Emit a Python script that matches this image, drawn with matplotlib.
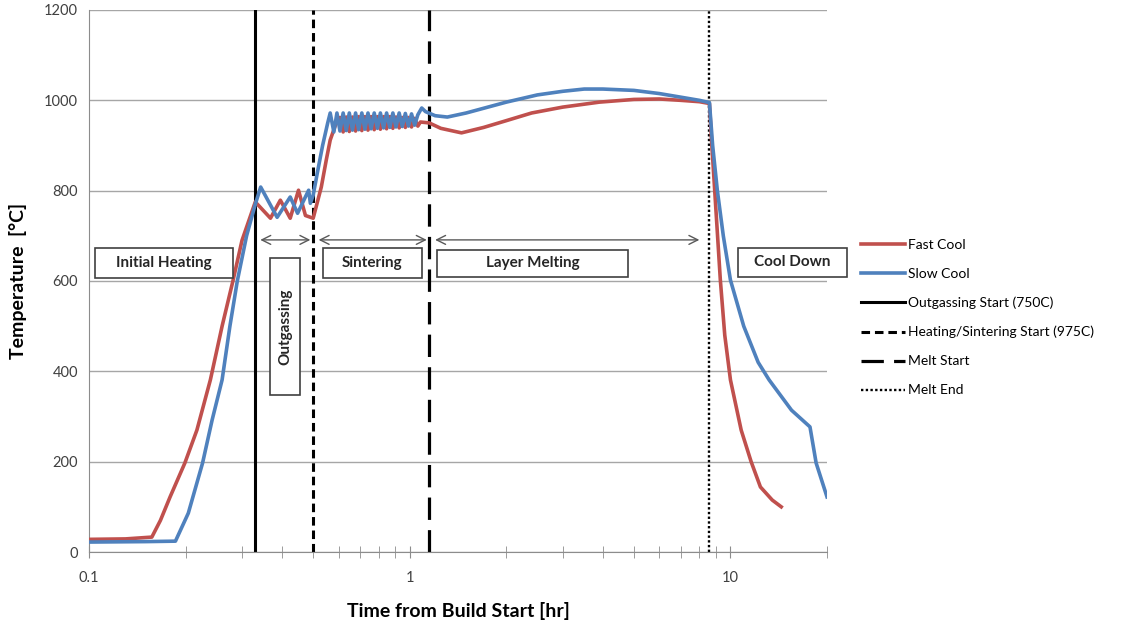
import matplotlib.pyplot as plt
from matplotlib.patches import Rectangle

plt.rcParams['font.family'] = ['Lato', 'DejaVu Sans']

# time [hr] and temperature [C]
fast_time = [0.1, 0.13, 0.157, 0.167, 0.179, 0.199, 0.217, 0.239, 0.26, 0.281,
             0.30, 0.33, 0.368, 0.395, 0.424, 0.45, 0.473, 0.5, 0.53,
             0.55, 0.565, 0.59, 0.606, 0.62, 0.634, 0.648, 0.663, 0.678, 0.693,
             0.709, 0.725, 0.741, 0.758, 0.775, 0.793, 0.81, 0.829, 0.847, 0.867,
             0.886, 0.906, 0.927, 0.948, 0.969, 0.991, 1.013, 1.036, 1.06, 1.08,
             1.15, 1.25, 1.45, 1.7, 2.0, 2.4, 3.0, 3.9, 5.0, 6.0,
             7.0, 8.0, 8.6, 8.75, 8.93, 9.3, 9.6, 10.0, 10.8, 11.6,
             12.4, 13.5, 14.4]
fast_temp = [28, 29, 33, 70, 122, 197, 270, 381, 500, 600,
             690, 775, 739, 779, 739, 801, 745, 739, 808,
             870, 912, 950, 962, 930, 963, 931, 963, 932, 964,
             933, 964, 934, 964, 935, 964, 936, 964, 937, 964,
             938, 963, 939, 962, 940, 962, 941, 960, 943, 952,
             950, 938, 928, 940, 955, 972, 985, 996, 1002, 1003,
             1000, 997, 993, 900, 801, 602, 480, 381, 270, 200,
             144, 115, 100]

slow_time = [0.1, 0.15, 0.186, 0.204, 0.226, 0.242, 0.26, 0.275,
             0.29, 0.31, 0.33, 0.343, 0.386, 0.424, 0.447, 0.484, 0.49, 0.5,
             0.515, 0.535, 0.555, 0.565, 0.58, 0.593, 0.606, 0.62, 0.634, 0.648,
             0.663, 0.678, 0.693, 0.709, 0.725, 0.741, 0.758, 0.775, 0.793, 0.81,
             0.829, 0.847, 0.867, 0.886, 0.906, 0.927, 0.948, 0.969, 0.991, 1.013,
             1.036, 1.06, 1.09, 1.12, 1.2, 1.31, 1.5, 2.0, 2.5, 3.0,
             3.5, 4.0, 5.0, 6.0, 7.0, 8.0, 8.6, 8.8, 9.1, 9.5,
             10.0, 11.0, 12.2, 13.2, 15.5, 17.7, 18.5, 20.0]
slow_temp = [22, 23, 24, 86, 197, 292, 381, 500,
             600, 700, 770, 808, 741, 786, 750, 801, 772, 790,
             839, 900, 950, 972, 930, 972, 932, 972, 933, 972,
             934, 972, 935, 972, 936, 972, 937, 972, 938, 972,
             939, 972, 940, 972, 941, 972, 942, 971, 943, 970,
             945, 968, 983, 975, 966, 963, 972, 996, 1012, 1020,
             1025, 1025, 1022, 1015, 1007, 1000, 995, 900, 801, 700,
             602, 500, 420, 381, 314, 277, 197, 122]

outgas_start = 0.33
sinter_start = 0.5
melt_start = 1.15
melt_end = 8.6

y_ticks = [0, 200, 400, 600, 800, 1000, 1200]
x_ticks = [0.1, 1, 10]
x_tick_labels = ['0.1', '1', '10']

W, H = 1130, 623
fig = plt.figure(figsize=(W / 100, H / 100), dpi=100)
ax = fig.add_axes([89 / W, 1 - 552 / H, (827 - 89) / W, (552 - 10) / H])

ax.plot(fast_time, fast_temp, color='#C0504D', lw=2.6, label='Fast Cool', zorder=3)
ax.plot(slow_time, slow_temp, color='#4F81BD', lw=2.6, label='Slow Cool', zorder=3)

ax.axvline(outgas_start, color='black', lw=2.2, label='Outgassing Start (750C)', zorder=2)
ax.axvline(sinter_start, color='black', lw=2.2, ls=(0, (2.8, 1.6)),
           label='Heating/Sintering Start (975C)', zorder=2)
ax.axvline(melt_start, color='black', lw=2.3, ls=(0, (7, 3.2)), label='Melt Start', zorder=2)
ax.axvline(melt_end, color='black', lw=1.7, ls=(0, (1, 1)), label='Melt End', zorder=2)

ax.set_xscale('log')
ax.set_xlim(0.1, 20)
ax.set_ylim(0, 1200)
ax.set_xticks(x_ticks)
ax.set_xticklabels(x_tick_labels)
ax.set_yticks(y_ticks)
ax.yaxis.grid(True, color='#a6a6a6', lw=1)
ax.set_axisbelow(True)
for s in ['top', 'right']:
    ax.spines[s].set_visible(False)
for s in ['left', 'bottom']:
    ax.spines[s].set_color('#8c8c8c')
ax.tick_params(axis='x', which='both', direction='inout', length=8, color='#8c8c8c',
               labelsize=10.5, labelcolor='#404040', pad=10)
ax.tick_params(axis='y', length=0, labelsize=10.5, labelcolor='#404040', pad=8)

ax.set_xlabel('Time from Build Start [hr]', fontsize=14, fontweight='bold', labelpad=12)
ax.set_ylabel('Temperature  [°C]', fontsize=14, fontweight='bold', labelpad=12)

# phase arrows
for a, b in [(0.342, 0.49), (0.52, 1.13), (1.2, 8.0)]:
    ax.annotate('', xy=(b, 691), xytext=(a, 691),
                arrowprops=dict(arrowstyle='<->', color='#595959', lw=1,
                                shrinkA=0, shrinkB=0, mutation_scale=16))

# phase label boxes (pixel boxes in the figure)
boxes = [
    ('Initial Heating', 95, 248, 233, 278, 0),
    ('Outgassing', 270, 258, 300, 395, 90),
    ('Sintering', 323, 248, 422, 278, 0),
    ('Layer Melting', 437, 250, 628, 277, 0),
    ('Cool Down', 738, 248, 847, 277, 0),
]
for label, x0, y0, x1, y1, rot in boxes:
    ax.add_patch(Rectangle((x0 / W, 1 - y1 / H), (x1 - x0) / W, (y1 - y0) / H,
                           transform=fig.transFigure, facecolor='white',
                           edgecolor='#404040', lw=1.2, clip_on=False, zorder=5))
    ax.text((x0 + x1) / 2 / W, 1 - (y0 + y1) / 2 / H, label, transform=fig.transFigure,
            ha='center', va='center', rotation=rot, fontsize=11, fontweight='bold',
            color='#262626', zorder=6)

handles, labels = ax.get_legend_handles_labels()
fig.legend(handles, labels, loc='upper left', bbox_to_anchor=(855 / W, 1 - 233 / H),
           frameon=False, fontsize=10, handlelength=3.2, handletextpad=0.2,
           labelspacing=1.22, borderaxespad=0)

fig.savefig('out.png', dpi=100)
